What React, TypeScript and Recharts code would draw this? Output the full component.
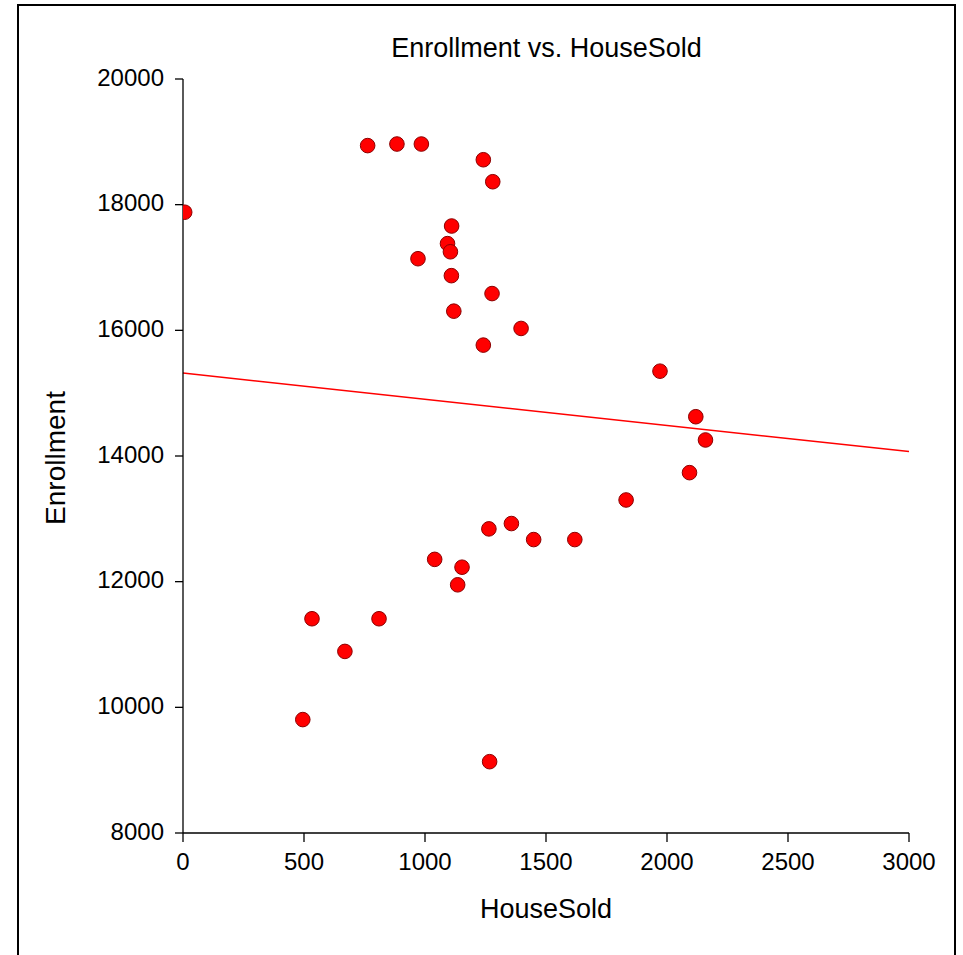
import React from 'react';
import { ScatterChart, Scatter, XAxis, YAxis, ReferenceLine } from 'recharts';

const houseSold = [7, 763, 884, 985, 1241, 1280, 1110, 1093, 1105, 971, 1109, 1277, 1119, 1397, 1241,
  1971, 2119, 2159, 2093, 1831, 1264, 1357, 1449, 1619, 1040, 1153, 1135, 533, 810, 669, 495, 1267];
const enrollment = [17880, 18940, 18965, 18965, 18715, 18365, 17660, 17380, 17250, 17140, 16870, 16585, 16305, 16030, 15765,
  15350, 14625, 14255, 13735, 13300, 12840, 12925, 12670, 12670, 12355, 12230, 11950, 11410, 11410, 10890, 9805, 9135];
const xTicks = [0, 500, 1000, 1500, 2000, 2500, 3000];
const yTicks = [8000, 10000, 12000, 14000, 16000, 18000, 20000];
const fitX = [0, 3000];
const fitY = [15321, 14070];

const data = houseSold.map((x, i) => ({ x, y: enrollment[i] }));
const FONT = '"Liberation Sans", Arial, Helvetica, sans-serif';

const Dot = (props: any) => {
  const { cx, cy } = props;
  if (cx == null || cy == null) return null;
  return <circle cx={cx} cy={cy} r={7.3} fill="#FF0000" stroke="#8B0000" strokeWidth={1} />;
};

const XLabel = (props: any) => {
  const vb = props.viewBox || {};
  return (
    <text x={vb.x + vb.width / 2} y={918} textAnchor="middle" fontSize={27} fontFamily={FONT} fill="#000">
      HouseSold
    </text>
  );
};

const YLabel = (props: any) => {
  const vb = props.viewBox || {};
  const cy = 458;
  return (
    <text x={65} y={cy} transform={`rotate(-90 65 ${cy})`} textAnchor="middle" fontSize={28} fontFamily={FONT} fill="#000">
      Enrollment
    </text>
  );
};

const axisStroke = { stroke: '#000', strokeWidth: 1.3 };

export default function App() {
  return (
    <div style={{ position: 'absolute', left: 0, top: 0, width: 963, height: 955, background: '#fff', overflow: 'hidden' }}>
      <div style={{ position: 'absolute', left: 17, top: 4, width: 939, height: 1000, border: '2px solid #000', boxSizing: 'border-box' }} />
      <div style={{ position: 'absolute', left: 0, top: 32, width: 1093, textAlign: 'center', fontFamily: FONT, fontSize: 27, color: '#000', lineHeight: '32px' }}>
        Enrollment vs. HouseSold
      </div>
      <div style={{ position: 'absolute', left: 0, top: 0 }}>
        <ScatterChart width={963} height={955} margin={{ top: 79, right: 54, left: 0, bottom: 62 }}>
          <XAxis
            type="number"
            dataKey="x"
            domain={[0, 3000]}
            ticks={xTicks}
            interval={0}
            height={60}
            tickSize={9}
            tickMargin={11}
            axisLine={axisStroke}
            tickLine={axisStroke}
            tick={{ fill: '#000', fontSize: 24, fontFamily: FONT }}
            allowDataOverflow
            label={<XLabel />}
          />
          <YAxis
            type="number"
            dataKey="y"
            domain={[8000, 20000]}
            ticks={yTicks}
            interval={0}
            width={183}
            tickSize={8}
            tickMargin={11}
            axisLine={axisStroke}
            tickLine={axisStroke}
            tick={{ fill: '#000', fontSize: 24, fontFamily: FONT, dy: -2 }}
            allowDataOverflow
            label={<YLabel />}
          />
          <ReferenceLine
            segment={[{ x: fitX[0], y: fitY[0] }, { x: fitX[1], y: fitY[1] }]}
            stroke="#FF0000"
            strokeWidth={1.5}
            ifOverflow="visible"
          />
          <Scatter data={data} shape={<Dot />} isAnimationActive={false} />
        </ScatterChart>
      </div>
    </div>
  );
}
